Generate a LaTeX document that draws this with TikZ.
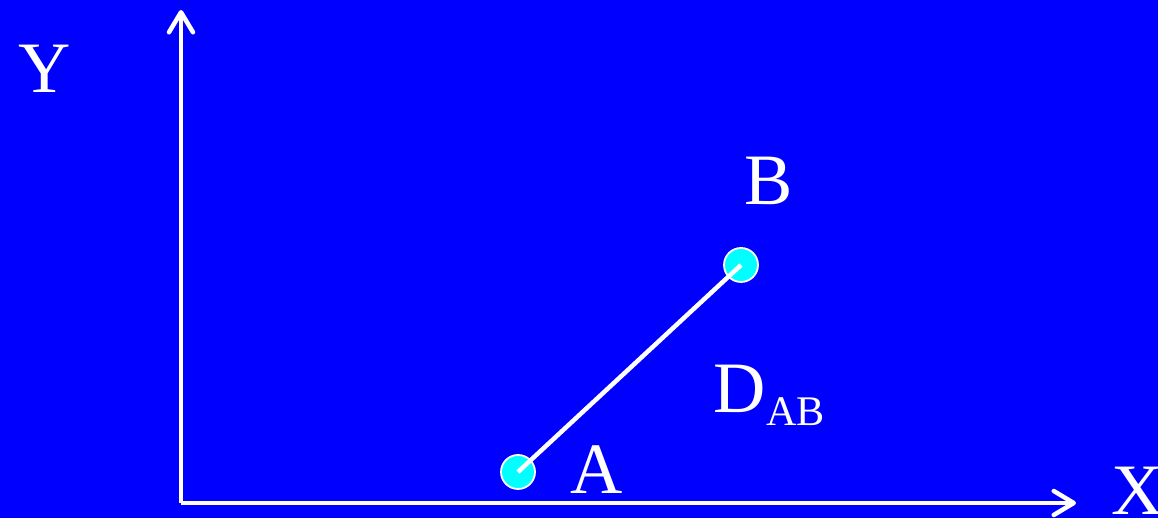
\documentclass[tikz,border=0pt]{standalone}
\usepackage{fontspec}
\setmainfont{Liberation Serif}
\usetikzlibrary{arrows.meta}
\definecolor{bgblue}{RGB}{0,0,255}
\definecolor{ptcyan}{RGB}{0,255,255}
\tikzset{
  axis/.style={white, line width=0.45mm, -{Straight Barb[length=2mm, width=2.4mm, line join=round, line cap=round]}},
  pt/.style={circle, draw=white, fill=ptcyan, line width=0.18mm, minimum size=3.4mm, inner sep=0pt},
  lbl/.style={white, inner sep=0pt, anchor=base, font=\fontsize{20.6}{24}\selectfont}
}
\begin{document}
\begin{tikzpicture}
% Background
\fill[bgblue] (0,0) rectangle (11.58,5.18);
\useasboundingbox (0,0) rectangle (11.58,5.18);
% Axes
\coordinate (O) at (1.81,0.15);
\coordinate (Ytip) at (1.81,5.08);
\coordinate (Xtip) at (10.76,0.15);
\draw[axis] (O) -- (Ytip);
\draw[axis] (O) -- (Xtip);
\node[lbl] (ylbl) at (0.45,4.25) {Y};
\node[lbl] (xlbl) at (11.38,0.03) {X};
% Points and segment
\node[pt] (A) at (5.18,0.46) {};
\node[pt] (B) at (7.41,2.53) {};
\draw[white, line width=0.45mm] (A.center) -- (B.center);
\node[lbl] (alab) at (5.97,0.24) {A};
\node[lbl] (blab) at (7.69,3.13) {B};
% Distance label
\node[lbl, anchor=base west] (dlab) at (7.13,1.05) {D\raisebox{-0.13cm}{\fontsize{12}{14}\selectfont AB}};
\end{tikzpicture}
\end{document}
